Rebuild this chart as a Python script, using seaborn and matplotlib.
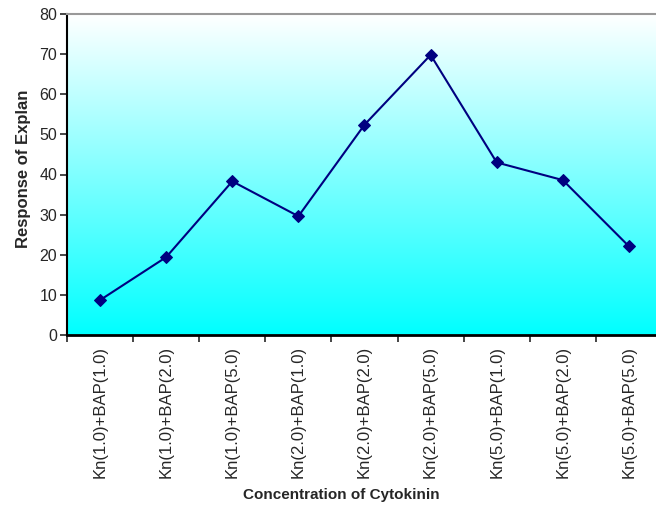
import numpy as np
import seaborn as sns
import matplotlib.pyplot as plt

# data
categories = ['Kn(1.0)+BAP(1.0)', 'Kn(1.0)+BAP(2.0)', 'Kn(1.0)+BAP(5.0)',
              'Kn(2.0)+BAP(1.0)', 'Kn(2.0)+BAP(2.0)', 'Kn(2.0)+BAP(5.0)',
              'Kn(5.0)+BAP(1.0)', 'Kn(5.0)+BAP(2.0)', 'Kn(5.0)+BAP(5.0)']
response = [8.7, 19.4, 38.3, 29.6, 52.4, 69.8, 43.0, 38.6, 22.1]
y_ticks = [0, 10, 20, 30, 40, 50, 60, 70, 80]

sns.set_style('white')
plt.rcParams['font.family'] = ['Liberation Sans', 'DejaVu Sans']

W, H = 656, 508
fig = plt.figure(figsize=(W / 100, H / 100), dpi=100)
ax = fig.add_axes([67 / W, (H - 335) / H, (662 - 67) / W, (335 - 14) / H])

# white-to-cyan gradient background
grad = np.linspace(0, 1, 256).reshape(-1, 1)
cmap = plt.matplotlib.colors.LinearSegmentedColormap.from_list('wc', ['#00ffff', '#ffffff'])
ax.imshow(grad, aspect='auto', cmap=cmap, origin='lower',
          extent=[0, 1, 0, 1], transform=ax.transAxes, zorder=0)

x = np.arange(len(categories))
sns.lineplot(x=x, y=response, ax=ax, color='#000080', linewidth=1.5,
             marker='D', markersize=6, markeredgecolor='#000080', zorder=3)

ax.set_xlim(-0.5, len(categories) - 0.5)
ax.set_ylim(0, 80)
ax.set_yticks(y_ticks)
ax.set_xticks(x)
ax.set_xticklabels(categories, rotation=90, fontsize=12)
ax.set_xticks(np.arange(len(categories) + 1) - 0.5, minor=True)
ax.tick_params(axis='x', which='major', length=0, pad=8)
ax.tick_params(axis='x', which='minor', length=5, width=1.2, direction='out', bottom=True)
ax.tick_params(axis='y', length=5, width=1.2, direction='out', left=True, labelsize=11.5, pad=2)

for side in ['left', 'bottom']:
    ax.spines[side].set_color('black')
ax.spines['left'].set_linewidth(1.5)
ax.spines['bottom'].set_linewidth(2)
ax.spines['top'].set_color('#999999')
ax.spines['top'].set_linewidth(1.5)
ax.spines['right'].set_visible(False)

ax.set_xlabel('')
ax.set_ylabel('')
fig.text(24 / W, 1 - 169 / H, 'Response of Explan', fontsize=12, fontweight='bold',
         rotation=90, ha='center', va='center')
fig.text(341 / W, 1 - 495 / H, 'Concentration of Cytokinin', fontsize=11,
         fontweight='bold', ha='center', va='center')

fig.savefig('out.png', dpi=100)
